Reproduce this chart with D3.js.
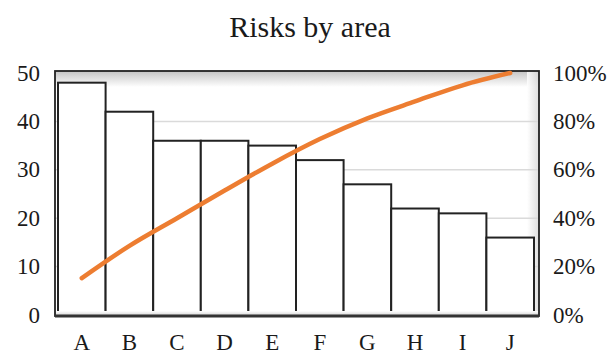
<!DOCTYPE html>
<html>
<head>
<meta charset="utf-8">
<script src="https://cdn.jsdelivr.net/npm/d3@7"></script>
<style>
  html, body { margin: 0; padding: 0; background: #fff; }
  svg { display: block; }
  text { font-family: "Liberation Serif", "Times New Roman", serif; fill: #1a1a1a; }
</style>
</head>
<body>
<svg id="chart" width="611" height="356"></svg>
<script>
const categories = ["A", "B", "C", "D", "E", "F", "G", "H", "I", "J"];
const counts = [48, 42, 36, 36, 35, 32, 27, 22, 21, 16];
const leftTicks = [0, 10, 20, 30, 40, 50];
const rightTicks = [0, 0.2, 0.4, 0.6, 0.8, 1.0];
const title = "Risks by area";

const total = d3.sum(counts);
const cumulative = d3.cumsum(counts).map(v => v / total);

const svg = d3.select("#chart");
const frame = { left: 55, right: 539, top: 71, bottom: 316 };

const x = d3.scaleBand().domain(categories).range([58, 534]).padding(0);
const y = d3.scaleLinear().domain([0, 50]).range([315, 73]);
const y2 = d3.scaleLinear().domain([0, 1]).range([315, 73]);

const defs = svg.append("defs");
const gTop = defs.append("linearGradient").attr("id", "gTop").attr("x1", 0).attr("y1", 0).attr("x2", 0).attr("y2", 1);
gTop.append("stop").attr("offset", "0%").attr("stop-color", "#c4c4c4");
gTop.append("stop").attr("offset", "100%").attr("stop-color", "#ffffff");
const gRight = defs.append("linearGradient").attr("id", "gRight").attr("x1", 0).attr("y1", 0).attr("x2", 1).attr("y2", 0);
gRight.append("stop").attr("offset", "0%").attr("stop-color", "#ffffff");
gRight.append("stop").attr("offset", "100%").attr("stop-color", "#d6d6d6");
const gBot = defs.append("linearGradient").attr("id", "gBot").attr("x1", 0).attr("y1", 0).attr("x2", 0).attr("y2", 1);
gBot.append("stop").attr("offset", "0%").attr("stop-color", "#ffffff");
gBot.append("stop").attr("offset", "100%").attr("stop-color", "#d0d0d0");

// plot background shading
svg.append("rect").attr("x", frame.left).attr("y", frame.top)
  .attr("width", frame.right - frame.left).attr("height", 16).attr("fill", "url(#gTop)");
svg.append("rect").attr("x", frame.right - 12).attr("y", frame.top)
  .attr("width", 12).attr("height", frame.bottom - frame.top).attr("fill", "url(#gRight)").attr("opacity", 0.8);

// gridlines
svg.append("g").selectAll("line").data(leftTicks.filter(t => t > 0 && t < 50)).join("line")
  .attr("x1", frame.left).attr("x2", frame.right)
  .attr("y1", d => y(d)).attr("y2", d => y(d))
  .attr("stroke", "#dadada").attr("stroke-width", 1.5);

// bars
svg.append("g").selectAll("rect").data(counts).join("rect")
  .attr("x", (d, i) => x(categories[i]))
  .attr("y", d => y(d))
  .attr("width", x.bandwidth())
  .attr("height", d => y(0) - y(d))
  .attr("fill", "#fff")
  .attr("stroke", "#222")
  .attr("stroke-width", 2);

// floor shading
svg.append("rect").attr("x", frame.left).attr("y", frame.bottom - 5)
  .attr("width", frame.right - frame.left).attr("height", 5).attr("fill", "url(#gBot)");

// frame
svg.append("rect").attr("x", frame.left).attr("y", frame.top)
  .attr("width", frame.right - frame.left).attr("height", frame.bottom - frame.top)
  .attr("fill", "none").attr("stroke", "#222").attr("stroke-width", 1.8);
svg.append("line").attr("x1", frame.left).attr("x2", frame.right)
  .attr("y1", frame.bottom).attr("y2", frame.bottom)
  .attr("stroke", "#333").attr("stroke-width", 3);

// cumulative line
const line = d3.line()
  .x((d, i) => x(categories[i]) + x.bandwidth() / 2)
  .y(d => y2(d))
  .curve(d3.curveMonotoneX);
svg.append("path").datum(cumulative)
  .attr("d", line)
  .attr("fill", "none")
  .attr("stroke", "#ed7d31")
  .attr("stroke-width", 4.5)
  .attr("stroke-linecap", "round")
  .attr("stroke-linejoin", "round");

// left axis labels
svg.append("g").selectAll("text").data(leftTicks).join("text")
  .attr("x", 40).attr("y", d => y(d))
  .attr("text-anchor", "end").attr("dominant-baseline", "central")
  .attr("font-size", 23)
  .text(d => d);

// right axis labels
const pct = d3.format(".0%");
svg.append("g").selectAll("text").data(rightTicks).join("text")
  .attr("x", 553).attr("y", d => y2(d))
  .attr("text-anchor", "start").attr("dominant-baseline", "central")
  .attr("font-size", 23)
  .text(d => pct(d));

// x labels
svg.append("g").selectAll("text").data(categories).join("text")
  .attr("x", d => x(d) + x.bandwidth() / 2).attr("y", 350)
  .attr("text-anchor", "middle")
  .attr("font-size", 23)
  .text(d => d);

// title
svg.append("text").attr("x", 310).attr("y", 37)
  .attr("text-anchor", "middle").attr("font-size", 30)
  .text(title);
</script>
</body>
</html>
